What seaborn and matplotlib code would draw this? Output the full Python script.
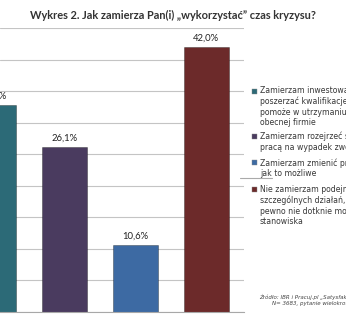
import matplotlib
matplotlib.use("Agg")
import matplotlib.pyplot as plt
import pandas as pd
import seaborn as sns
from matplotlib.lines import Line2D
from matplotlib.patches import Rectangle

TITLE = "Wykres 2. Jak zamierza Pan(i) „wykorzystać” czas kryzysu?"
CATEGORIES = [
    "Zamierzam inwestować w siebie/\nposzerzać kwalifikacje, co\npomoże w utrzymaniu się w\nobecnej firmie",
    "Zamierzam rozejrzeć się za nową\npracą na wypadek zwolnienia",
    "Zamierzam zmienić pracę tak szybko,\njak to możliwe",
    "Nie zamierzam podejmować żadnych\nszczególnych działań, kryzys na\npewno nie dotknie mojego\nstanowiska",
]
VALUES = [32.8, 26.1, 10.6, 42.0]
COLORS = ["#2C6A77", "#4A3B5F", "#3D6AA3", "#6C2A2A"]
SOURCE = [
    "Źródło: IBR i Pracuj.pl „Satysfakcja z pracy 2009”,",
    "N= 3683, pytanie wielokrotnego wyboru",
]

W, H = 346, 320


def fx(px):
    return px / W


def fy(py):
    return 1 - py / H


sns.set_theme(style="white")
plt.rcParams["font.family"] = ["Lato", "DejaVu Sans"]

fig = plt.figure(figsize=(W / 100, H / 100), dpi=100)
ax = fig.add_axes([0, fy(312), fx(244), (312 - 28) / H])

df = pd.DataFrame({"kategoria": CATEGORIES, "procent": VALUES})
sns.barplot(
    data=df,
    x="kategoria",
    y="procent",
    hue="kategoria",
    palette=COLORS,
    legend=False,
    width=0.636,
    saturation=1,
    edgecolor=(0, 0, 0, 0.35),
    linewidth=0.6,
    ax=ax,
)

# pierwszy slupek wychodzi poza os, wiec etykiety bez przycinania
for cont, v in zip(ax.containers, VALUES):
    ax.bar_label(cont, labels=[f"{v:.1f}%".replace(".", ",")], padding=3,
                 fontsize=6.8, color="#222222", annotation_clip=False)

ax.set_xlim(0.088, 3.537)
ax.set_ylim(0, 45)
ax.set_yticks(range(0, 46, 5))
ax.set_yticklabels([])
ax.set_xticks([])
ax.tick_params(length=0)
ax.set_xlabel("")
ax.set_ylabel("")
ax.yaxis.grid(True, color="#C4C4C4", lw=0.8)
ax.set_axisbelow(True)
for side in ("left", "right", "top"):
    ax.spines[side].set_visible(False)
ax.spines["bottom"].set_color("#A8A8A8")
ax.spines["bottom"].set_linewidth(0.8)

fig.text(fx(173), fy(15), TITLE, ha="center", va="center", fontsize=7.9,
         fontweight="bold", color="#333333")

# legenda rysowana recznie - kwadrat przy pierwszej linii opisu
line_h = 9.3
y = 91
for label, c in zip(CATEGORIES, COLORS):
    fig.add_artist(Rectangle((fx(252), fy(y + 2.5)), fx(5), 5 / H,
                             facecolor=c, edgecolor="#888888", lw=0.3,
                             transform=fig.transFigure))
    fig.text(fx(260), fy(y - 4.5), label, ha="left", va="top", fontsize=5.6,
             family="DejaVu Sans", color="#383838", linespacing=1.2)
    y += label.count("\n") * line_h + line_h + 8

fig.add_artist(Line2D([fx(240), fx(272)], [fy(178), fy(178)],
                      color="#AAAAAA", lw=0.8))

fig.text(fx(259), fy(297), SOURCE[0], fontsize=4, style="italic",
         va="center", color="#444444", family="DejaVu Sans")
fig.text(fx(272), fy(303), SOURCE[1], fontsize=4, style="italic",
         va="center", color="#444444", family="DejaVu Sans")

fig.savefig("out.png", dpi=100)
